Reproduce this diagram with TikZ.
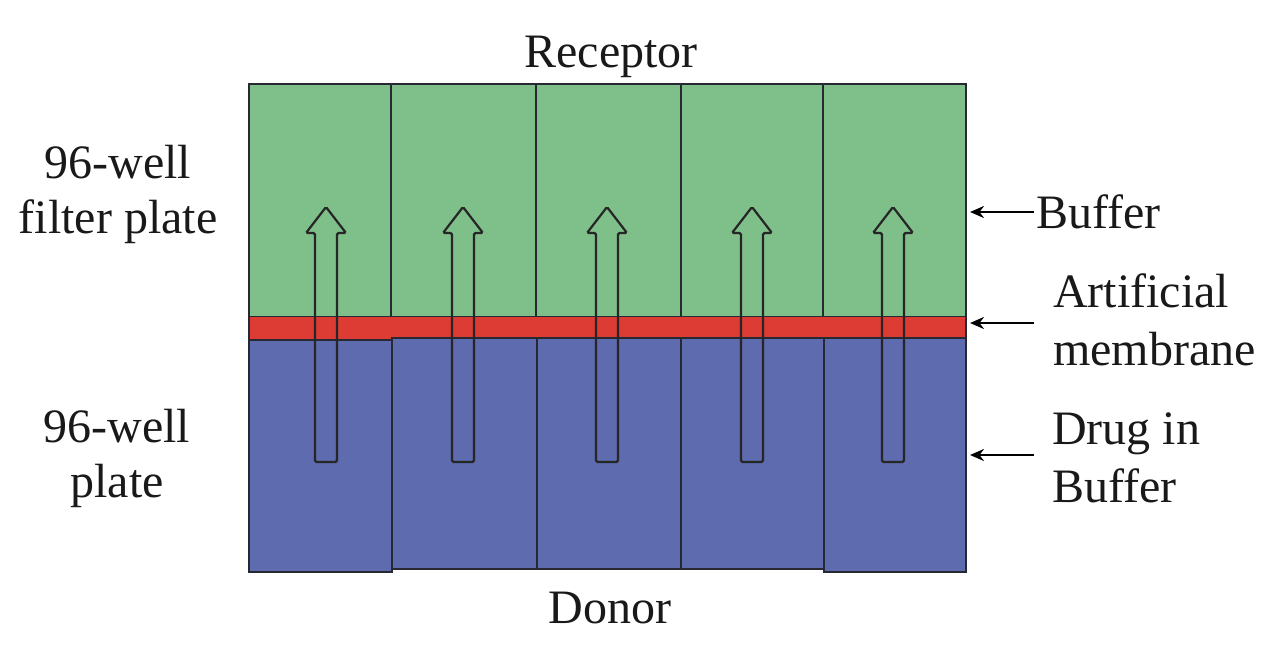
\documentclass[tikz,border=0pt]{standalone}
\usepackage{fontspec}
\setmainfont{Liberation Serif}
\usetikzlibrary{arrows.meta}
\definecolor{wellgreen}{RGB}{127,191,138}
\definecolor{membred}{RGB}{221,60,52}
\definecolor{wellblue}{RGB}{94,107,174}
\definecolor{edgecol}{RGB}{40,40,50}
\begin{document}
\begin{tikzpicture}[x=1pt,y=-1pt,
  lbl/.style={font=\fontsize{48}{55}\selectfont, inner sep=0pt, text=black!90},
  rlbl/.style={font=\fontsize{48}{58}\selectfont, inner sep=0pt, text=black!90, align=left, anchor=base west},
  cell/.style={draw=edgecol, line width=1.6pt},
  flux/.style={draw=black!85, line width=2.2pt, rounded corners=1.5pt},
  pointer/.style={-{Stealth[length=14pt,width=12pt]}, line width=2.8pt, black}]
\useasboundingbox (0,0) rectangle (1264,648);
% receptor (filter plate) wells
\foreach \a/\b in {249/391,391/536,536/681,681/823,823/966}
  \path[cell, fill=wellgreen] (\a,84) rectangle (\b,317);
% artificial membrane
\path[fill=membred] (249,317) rectangle (966,339);
\draw[edgecol, line width=1.6pt] (249,317) -- (249,339) (966,317) -- (966,339);
% donor wells
\path[cell, fill=wellblue] (249,340) rectangle (392,572);
\foreach \a/\b in {392/537,537/681,681/824}
  \path[cell, fill=wellblue] (\a,338) rectangle (\b,569);
\path[cell, fill=wellblue] (824,338) rectangle (966,572);
% permeation arrows
\foreach \c in {326,463,607,752,893}
  \draw[flux] (\c-11,462) -- (\c-11,233) -- (\c-20,233) -- (\c,207)
     -- (\c+20,233) -- (\c+11,233) -- (\c+11,462) -- cycle;
% labels (base anchor of a two-line node = baseline of its last line)
\node[lbl, anchor=base] (receptor) at (611,67) {Receptor};
\node[lbl, anchor=base] (donor) at (610,623) {Donor};
\node[lbl, anchor=base, align=center] (filterplate) at (118,233) {96-well\\filter plate};
\node[lbl, anchor=base, align=center] (wellplate) at (117,497) {96-well\\plate};
\node[rlbl] (buffer) at (1036,228) {Buffer};
\node[rlbl] (membrane) at (1053,365) {Artificial\\membrane};
\node[rlbl] (drug) at (1052,502) {Drug in\\Buffer};
% pointer coordinates
\coordinate (bufS) at (1034,212);
\coordinate (bufE) at (970,212);
\coordinate (memS) at (1034,323);
\coordinate (memE) at (970,323);
\coordinate (drugS) at (1034,455);
\coordinate (drugE) at (970,455);
\draw[pointer] (bufS) -- (bufE);
\draw[pointer] (memS) -- (memE);
\draw[pointer] (drugS) -- (drugE);
\end{tikzpicture}
\end{document}
